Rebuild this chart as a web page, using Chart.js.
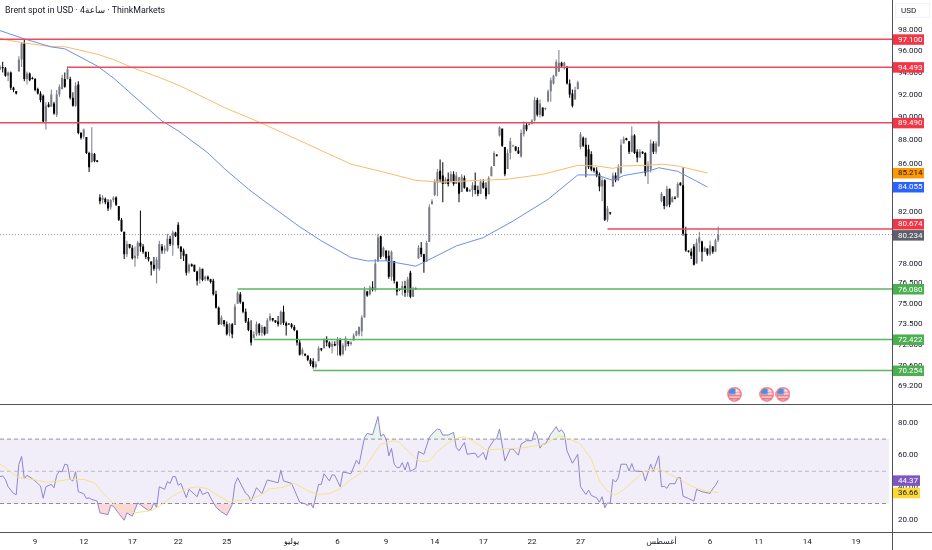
<!DOCTYPE html>
<html>
<head>
<meta charset="utf-8">
<script src="https://cdn.jsdelivr.net/npm/chart.js@4/dist/chart.umd.min.js"></script>
<style>
html, body { margin: 0; padding: 0; background: #fff; width: 932px; height: 550px; overflow: hidden; }
canvas { position: absolute; left: 0; }
#title { position: absolute; left: 5px; top: 5px; font: 8.8px Roboto, "DejaVu Sans", sans-serif; color: #131722; white-space: nowrap; z-index: 2; }
#wrap { position: relative; width: 932px; height: 550px; }
</style>
</head>
<body>
<div id="wrap">
<div id="title">Brent spot in USD · 4ساعة · ThinkMarkets</div>
<div style="position:absolute;left:0;top:0;width:932px;height:405px"><canvas id="price"></canvas></div>
<div style="position:absolute;left:0;top:405px;width:932px;height:145px"><canvas id="rsi"></canvas></div>
</div>
<script>
var highs = [
94.7,95,94.5,94.1,94.1,92.7,92.3,95.5,96.85,97.05,
94.1,94,93.6,93.5,92.6,92.3,92,91.3,91.3,92.45,
91.35,92.4,92.9,93.8,94,94.55,93.6,92.2,93.1,93.2,
88.7,89,88.25,87,89.1,86.9,86.3,83.45,83.4,83.2,
83.05,83.05,83.3,83.3,82.5,81.55,80.45,79.75,79.5,79.4,
79.3,79.75,82.15,79.5,78.9,78.9,78.15,78.5,78.5,79.75,
79.5,79.4,80.3,80.15,80.55,80.45,81.2,79.3,79.15,78.75,
78,78,77.9,77.45,77.75,77.6,77.1,77.1,76.85,76.85,
75.95,74.8,74.15,73.8,73.7,73.6,73.6,75,75.9,75.85,
75.15,74.65,73.95,73.8,73,73.7,73.6,73.45,73.35,73.95,
74.3,73.95,73.8,74.1,74.5,74.85,73.7,73.6,73.6,73.45,
73.05,72.45,71.85,71.45,71.3,71.1,71.1,70.9,71.95,71.8,
72.5,72.65,72.3,72.3,72.3,72.6,72.5,72.15,72.65,72.3,
72.3,72.85,73.05,73.35,74.15,76.25,75.95,76.35,76.65,78.35,
80.3,80.15,79.3,79,79,79,78.2,76.65,76.1,76.65,
76.7,77,77.45,76.25,76.2,79.4,79.65,78.75,79.75,82.65,
83.05,84.7,85.55,86.35,86.1,84.85,85.25,85.35,85.35,85.3,
84.85,85.1,85,84.05,83.9,84.45,85.25,84.15,84.7,84.7,
84.45,84.95,85.8,87.05,86.8,89.2,88.9,87.4,87.2,88.2,
87.6,87.45,87.4,88.9,89.6,89.5,89.5,89.8,91.8,91.7,
91.55,90.85,90.85,92.45,93.55,93.8,95.2,96.1,95,95,
94.55,93.35,92.45,92.7,93.25,88.7,88.3,88.2,87.6,87.05,
85.7,85.7,85.25,84.85,84.7,82.5,82,85.25,85.25,85.95,
88.05,88.3,88.2,87.9,89.2,88.5,87.2,87.2,87.05,86.95,
86.2,88.05,87.9,87.9,89.7,83.65,83.3,84.15,83.9,83.3,
83.3,84.45,84.45,85.7,80.85,79,79.15,79.5,79.9,80.45,
79.75,79.3,79.15,79.75,79.35,79.9,80.85];
var lows = [
94.2,94,93.6,93.2,92.4,92.2,92,94.1,94.5,93.2,
92.9,93.2,93.35,92.3,92,91.3,89.55,88.9,90.85,90.9,
90.2,90,91.8,92.45,92.6,93.35,91.55,90.9,90.9,88.5,
88.05,88.1,86.8,85.3,86.1,86.1,86.1,82.65,82.7,82.65,
82.1,82.2,82.8,82.5,81.3,80.45,78.35,78.5,79.15,78.3,
77.75,78.35,78.9,78.75,78.35,78.15,77.1,77.45,76.5,77.45,
78.75,78.75,78.9,79.35,78.6,80.05,79.15,78.35,78.2,77.1,
77.25,77.75,77.35,76.35,76.5,76.65,76.65,76.7,76.5,75.6,
74.65,73.45,73.45,73.35,72.7,72.65,72.5,73.45,75,75,
74.3,73.6,73,72,72.5,72.65,72.7,72.65,72.7,72.85,
73.7,73.7,73.6,73.35,73.45,73.45,72.7,73.45,73.2,73,
72,71.3,71.3,71.25,70.9,70.55,70.4,70.4,70.9,71.6,
71.8,71.95,71.8,71.45,71.95,71.3,71.25,71.3,71.65,71.95,
72,72.35,72.65,72.65,72.65,74,75.5,75.6,75.9,75.9,
78.15,78.35,78.5,78.2,76.85,76.7,76.5,75.6,75.95,75.6,
75.5,75.5,75.4,75.5,76.05,78.35,78.5,77.3,78.15,79.65,
82.65,83.3,83.3,84.45,82.8,84.3,84.1,84.45,84.15,84.3,
82.8,83.65,83.9,83.65,83.65,83.25,83.45,83.3,83.45,83.9,
83.05,83.45,84.95,85.8,86.6,88.3,87.4,84.95,85.55,86.35,
87.4,87.05,86.8,86.5,88.3,88.75,89.25,89.35,89.6,90.05,
89.95,90.05,90.6,91.3,91.35,92.9,93.6,94.05,94.45,94.25,
92.9,91.7,90.85,91.55,92.45,87.2,87.4,84.85,85.55,85.35,
85.25,84.85,83.7,82.9,81.3,81.25,81.8,84.05,84.45,84.55,
85.1,87.7,87.95,86.8,86.95,86.8,86.1,86.5,86.8,84.95,
84.3,85.25,86.8,86.8,87.4,82.8,82.25,82.4,82.4,82.8,
83.05,83.2,84.15,80.15,78.9,78.85,78.35,77.85,78,78.9,
78.15,78.9,78.6,78.6,78.75,78.9,79.65];
var opens = [
94.3,94.5,94.4,93.7,94,92.6,92.3,94.1,95.2,96.7,
93.4,93.9,93.5,93.4,92.5,92.1,91.9,89.6,91.1,90.9,
91.2,90.2,92,92.5,93.4,93.4,93.4,91.7,91,92.9,
88.6,88.3,88.25,86.9,86.1,86.8,86.25,83.2,83,83.1,
82.8,82.4,83,83.2,82.5,81.4,80.45,78.7,79.5,79.2,
78.4,78.6,79.6,79.3,78.9,78.5,78.15,77.9,77.6,77.6,
79.3,79,79,79.9,79.4,80.4,81,79.3,79,78.7,
77.4,77.95,77.9,77.4,76.8,77.6,76.8,77,76.8,76.7,
75.7,74.7,73.5,73.8,73.5,72.9,73.5,73.45,75,75.7,
75.1,74.4,73.7,73.1,72.5,72.8,73.5,72.9,73.3,72.85,
73.8,73.95,73.8,73.7,73.5,74.4,73.6,73.55,73.5,73.3,
73.05,72.2,71.4,71.4,71.3,71,70.9,70.5,70.9,71.8,
71.8,72.4,72.2,71.9,72.1,72,72.4,71.4,71.9,72.3,
72.1,72.35,72.7,72.8,73,74,75.9,75.7,76.2,76,
78.15,80.1,78.6,79,78.6,77,78.2,76.6,76.1,76,
76.3,75.8,77.3,75.5,76.15,78.4,79.2,78.7,78.15,79.65,
82.65,83.4,84.4,85.4,85,84.3,84.7,84.45,85.1,84.3,
84.4,83.65,84.8,84,83.7,83.8,84.2,83.8,83.5,84.4,
84,83.45,84.95,85.8,86.75,88.4,89,87.4,85.55,86.9,
87.5,87.45,87.1,86.6,88.5,89.3,89.3,89.4,89.7,91.5,
90.2,90.85,90.7,91.4,92.3,93,93.7,94.1,94.9,94.6,
94.55,93,92.1,91.55,92.5,87.4,88.2,87.6,87.2,86.8,
85.6,85.4,85.1,84.1,84.6,81.4,82,84.1,85,84.6,
85.2,87.7,88.15,87.9,87,88.4,87,86.5,87,86.9,
85.3,85.5,87.7,87,87.5,82.9,83.3,82.5,83.9,82.8,
83.2,83.2,84.4,84.2,80.3,79,78.9,79.3,78,79.6,
79.7,78.9,79.15,78.7,79.3,78.9,79.8];
var closes = [
94.5,94.4,93.7,94,92.6,92.4,92.1,95.2,96.7,93.4,
93.9,93.3,93.4,92.4,92.1,91.5,89.6,91,90.9,92,
90.3,92,92.7,93.5,92.7,94.3,91.7,91,92.8,88.6,
88.2,88.9,86.9,85.7,86.9,86.2,86.15,82.9,83.2,82.8,
82.3,83,83.2,82.6,81.4,80.5,78.7,79.5,79.2,78.4,
78.6,79.6,79.3,78.9,78.5,78.3,77.9,77.6,78.3,79.5,
79,79.15,79.9,79.5,80.4,80.1,79.4,78.9,78.6,77.3,
77.9,77.8,77.4,76.7,77.6,76.75,77,76.8,76.6,75.7,
74.7,73.5,74,73.5,72.8,73.5,72.8,74.8,75.8,75.1,
74.4,73.7,73.1,72.2,72.8,73.5,72.9,73.3,72.8,73.8,
74.1,73.8,73.65,73.5,74.4,73.6,73.4,73.5,73.3,73.1,
72.2,71.35,71.7,71.3,71,70.7,70.5,70.7,71.8,71.7,
72.4,72.2,71.9,72.1,72,72.45,71.35,72,72.5,72.1,
72.2,72.7,73,73.3,74,76,75.6,76.2,76,78,
80,78.5,79.2,78.4,77,78.9,76.7,75.9,76,76.3,
75.8,76.8,75.5,76.1,76.1,79.2,78.7,78.1,79.6,82.4,
82.9,84.5,85.3,84.7,84.3,84.7,84.3,85.1,84.3,85,
83.5,84.9,84,83.7,83.8,84.2,83.8,83.5,84.5,84,
83.3,84.8,85.7,86.9,86.65,89.1,87.5,85.1,86.9,87.9,
87.55,87.1,86.85,88.6,89.3,88.9,89.4,89.7,91.5,90.2,
91.2,90.1,90.8,92.3,93.3,93.7,95,94.9,94.6,94.9,
93,92,91,92.4,93.1,88.5,87.5,86.6,85.7,85.5,
85.4,85,84.1,84.6,81.4,82.3,81.9,85,84.6,85.7,
87.6,88.1,88,87,88.4,86.9,86.5,87,86.85,85.2,
85.9,87.7,87,87.7,89.6,83.5,82.5,83.9,82.6,83.2,
83.1,84.3,84.2,80.3,79,78.9,78.6,77.9,79.6,80,
78.9,79.2,78.7,79.4,78.9,79.8,80.234];

var blueBars = [0,9,19,24,36,42,60,66,77,83,92,97,111,119,130,136,143,154,158,169,179,190,203,214,221,227,231,240,244,251,262];
var blueValues = [97.93,97.14,96.38,96.2,94.6,93.5,89.65,88.8,86.9,85.6,83.88,83.05,80.85,79.75,78.45,78.2,78.2,77.8,78.2,79.35,80,81.3,83.05,85.05,85.05,84.6,85,85.35,85.65,85.35,84.055];
var orangeBars = [0,9,19,24,36,42,49,59,67,83,96,111,130,141,154,163,173,188,201,214,221,227,231,240,245,251,262];
var orangeValues = [97.15,96.75,96.4,96.4,95.7,95.2,94.45,93.55,92.75,90.85,89.55,87.95,85.95,85.35,84.6,84.45,84.55,84.7,85.1,85.85,85.8,85.6,85.8,85.85,85.95,85.8,85.214];

var levelValues = [97.1,94.493,89.49,80.674,76.08,72.422,70.254];
var levelStarts = [0,25,0,225,88,94,116];
var lastPrice = 80.234;
var flagBars = [272,284,290];
var flagValue = 68.65;

var priceTicks = [98,96,94,92,90,88,86,84,82,80,78,76.5,75,73.5,72,70.6,69.2];

var rsiBars = [0,1,2,3,5,6,7,8,9,10,12,14,15,16,17,19,20,21,22,23,24,25,26,27,28,29,31,32,33,34,36,37,40,41,42,44,46,47,49,51,55,56,57,58,59,61,62,63,64,65,66,67,69,70,73,74,75,77,78,80,82,84,86,87,88,91,92,93,95,97,99,103,104,105,108,111,113,114,115,116,118,119,120,122,123,124,126,127,130,132,133,135,136,138,140,141,142,143,144,145,146,147,148,149,150,151,152,154,155,157,159,160,162,163,164,166,168,169,170,172,173,176,177,179,180,181,183,184,185,187,189,190,192,193,195,197,198,199,200,201,202,204,206,207,208,209,210,212,214,215,217,218,219,221,222,223,224,225,226,227,228,229,230,232,233,234,235,238,239,241,242,244,245,246,247,248,250,251,252,253,255,257,258,260,263,264,265,266];
var rsiValues = [46.7,47.1,45,40.4,36.3,35.4,54.4,59.2,45.4,47.5,45.4,42.5,40.8,33.3,40.4,41.9,39.8,47.5,50.2,49.6,54.4,54,45,44,49.8,37.3,36.1,33.1,33.5,32.5,31.5,24.2,23.1,28.8,28.3,23.8,19.6,24.2,22.1,30.4,25.6,26.3,30.4,27.3,40.4,38.8,43.6,42.5,46.7,46.7,41.3,42.5,33.6,38.8,34.2,39.2,35.6,37.1,33.6,27.7,24.8,22.7,29.4,41.9,46,36.3,35,31.5,39.8,36.1,44.6,42.9,50.6,44,42.5,30.8,29.8,28.8,30,27.3,41.9,41.9,48.5,44,47.9,47.5,40.4,49.6,48.5,56.9,54.4,71,73.5,72.7,84,71.7,73.1,70,59.6,64.2,54.4,52.3,52.3,55.4,50.8,55.8,50,51.9,62.3,60.6,71,73.1,76.3,75.8,72.5,72.5,74.2,64.8,62.7,67.9,60.6,61.3,58.5,61.7,57.1,64.4,69.6,70.4,76.3,56.5,63.8,63.8,60,66.9,69,69,74.8,72.1,64.4,66.9,66.9,73.1,77.7,74.6,75.8,73.5,62.7,55,60.6,40.4,35.6,38.3,35,33.5,30.8,34.2,27.3,30.4,30,45,43.3,46,54.4,54.4,50.2,54.8,50.2,49.8,44,54.4,50.2,59.6,40.4,40.8,39.4,42.3,42.3,46,46,34.6,33.1,31.5,38.8,37.3,36.3,39.2,41.3,44.37];
var smaBars = [0,2,5,7,12,17,22,26,31,35,38,42,46,50,56,59,64,69,73,77,81,85,89,93,98,100,104,109,115,118,122,126,130,134,138,141,146,148,151,154,156,159,163,168,172,175,180,185,193,198,202,207,211,215,219,222,225,228,231,236,239,244,248,252,256,260,266];
var smaValues = [54.4,52.3,48.1,46,45,43.3,44,45,45,42.9,36.7,30,26.7,24.2,25.6,28.3,34.6,39.2,40.4,39.2,34.6,30.8,32.1,32.5,36.7,39.2,39.8,42.5,37.1,35.6,36.1,39.2,45,49.2,59.6,66.9,69,67.9,62.7,57.9,56,56.5,63.8,70,71.5,69,63.3,63.8,64.4,65.8,66.9,72.1,70,66.9,57.5,44,37.7,35.2,38.8,46,50.2,51.7,48.1,45,40.8,38.3,36.66];
var rsiLevels = [70,50,30];
var rsiTicks = [80,60,40,20];

var timeBars = [13,31,49,66,84,108,125,143,161,179,197,215,245,263,281,299,317];
var timeLabels = ["9","12","17","22","25","يوليو","6","9","14","17","22","27","أغسطس","6","11","14","19"];

var LAST_X = 330.56;
var FONT = 'Roboto, "DejaVu Sans", sans-serif';
var TEXT = "#131722";
var FRAME = "#50535e";
var RED = "#f23645";
var GREEN = "#4caf50";

function pairs(xs, ys) {
    return xs.map(function(x, i) { return { x: x, y: ys[i] }; });
}

function flagIcon() {
    var size = 15, c = document.createElement("canvas");
    c.width = size; c.height = size;
    var g = c.getContext("2d");
    g.beginPath(); g.arc(7.5, 7.5, 6.6, 0, Math.PI * 2);
    g.fillStyle = "#fde3e6"; g.fill();
    g.save(); g.clip();
    g.fillStyle = "#f0717c";
    g.fillRect(0, 8, size, 1.6);
    g.fillRect(0, 11, size, 1.6);
    g.fillStyle = "#f7a3aa";
    g.fillRect(7, 5, size, 1.4);
    g.fillStyle = "#4a90e2";
    g.fillRect(2, 2, 6.5, 5.5);
    g.restore();
    g.beginPath(); g.arc(7.5, 7.5, 6.6, 0, Math.PI * 2);
    g.strokeStyle = "#ef6a76"; g.lineWidth = 1.3; g.stroke();
    return c;
}

function box(ctx, y, w, bg, fg, txt) {
    ctx.fillStyle = bg;
    ctx.fillRect(893, y - 5, w, 10.5);
    ctx.fillStyle = fg;
    ctx.font = "8px " + FONT;
    ctx.textAlign = "left";
    ctx.textBaseline = "middle";
    ctx.fillText(txt, 898, y + 0.5);
}

function noPadding(scale) {
    scale.width = 39.5;
    scale.paddingTop = 0;
    scale.paddingBottom = 0;
}

var priceLabels = {
    id: "priceLabels",
    afterDraw: function(chart) {
        var ctx = chart.ctx, y = chart.scales.y;
        ctx.save();
        ctx.strokeStyle = FRAME;
        ctx.lineWidth = 1;
        ctx.beginPath();
        ctx.moveTo(892.5, 0); ctx.lineTo(892.5, 405);
        ctx.moveTo(0, 404.5); ctx.lineTo(932, 404.5);
        ctx.stroke();
        ctx.strokeStyle = "#f0f3fa";
        ctx.strokeRect(895.5, 3.5, 34, 14);
        ctx.fillStyle = TEXT;
        ctx.font = "8px " + FONT;
        ctx.textAlign = "left";
        ctx.textBaseline = "middle";
        ctx.fillText("USD", 901, 11);
        for (var i = 0; i < levelValues.length; i++) {
            var v = levelValues[i];
            box(ctx, y.getPixelForValue(v) - (v === 80.674 ? 5 : 0), 31, v > 80 ? RED : GREEN, "#fff", v.toFixed(3));
        }
        box(ctx, y.getPixelForValue(orangeValues[orangeValues.length - 1]), 31, "#ff9800", TEXT, orangeValues[orangeValues.length - 1].toFixed(3));
        box(ctx, y.getPixelForValue(blueValues[blueValues.length - 1]), 31, "#2962ff", "#fff", blueValues[blueValues.length - 1].toFixed(3));
        box(ctx, y.getPixelForValue(lastPrice) + 0.5, 31, "#5d606b", "#fff", lastPrice.toFixed(3));
        ctx.restore();
    }
};

var rsiLabels = {
    id: "rsiLabels",
    afterDraw: function(chart) {
        var ctx = chart.ctx, y = chart.scales.y;
        ctx.save();
        ctx.strokeStyle = FRAME;
        ctx.lineWidth = 1;
        ctx.beginPath();
        ctx.moveTo(892.5, 0); ctx.lineTo(892.5, 145);
        ctx.moveTo(0, 127.5); ctx.lineTo(932, 127.5);
        ctx.stroke();
        box(ctx, y.getPixelForValue(rsiValues[rsiValues.length - 1]), 27, "#7e57c2", "#fff", rsiValues[rsiValues.length - 1].toFixed(2));
        box(ctx, y.getPixelForValue(smaValues[smaValues.length - 1]), 27, "#fdd835", TEXT, smaValues[smaValues.length - 1].toFixed(2));
        ctx.restore();
    }
};

var candleWicks = [], candleBodies = [], candleColors = [];
highs.forEach(function(h, i) {
    candleWicks.push({ x: i, y: [lows[i], h] });
    candleBodies.push({ x: i, y: [opens[i], closes[i]] });
    candleColors.push(closes[i] >= opens[i] ? "#787b86" : "#000000");
});

var priceSets = [
    { type: "bar", data: candleWicks, barThickness: 1, inflateAmount: 0, backgroundColor: candleColors, order: 5 },
    { type: "bar", data: candleBodies, barThickness: 2, inflateAmount: 0, backgroundColor: candleColors, order: 4 },
    { type: "line", data: pairs(blueBars, blueValues), borderColor: "#6f8fe6", borderWidth: 1, pointRadius: 0, order: 3 },
    { type: "line", data: pairs(orangeBars, orangeValues), borderColor: "#f7bc6c", borderWidth: 1, pointRadius: 0, order: 3 },
    { type: "line", data: [{ x: 0, y: lastPrice }, { x: LAST_X, y: lastPrice }], borderColor: "#9598a1", borderWidth: 1, borderDash: [1, 2], pointRadius: 0, order: 6 },
    { type: "line", data: flagBars.map(function(b) { return { x: b, y: flagValue }; }), showLine: false, pointStyle: flagIcon(), pointRadius: 7, order: 1 }
];
levelValues.forEach(function(v, i) {
    priceSets.push({
        type: "line",
        data: [{ x: levelStarts[i], y: v }, { x: LAST_X, y: v }],
        borderColor: v > 80 ? "#ea4a5c" : "#5cb562",
        borderWidth: 1.5,
        pointRadius: 0,
        order: 2
    });
});

new Chart(document.getElementById("price"), {
    type: "bar",
    data: { datasets: priceSets },
    options: {
        responsive: true,
        maintainAspectRatio: false,
        animation: false,
        layout: { padding: 0, autoPadding: false },
        plugins: { legend: { display: false }, tooltip: { enabled: false } },
        datasets: { bar: { grouped: false } },
        scales: {
            x: { type: "linear", min: 0, max: LAST_X, offset: false, display: false, grid: { display: false } },
            y: {
                type: "logarithmic",
                position: "right",
                bounds: "data",
                min: 67.93,
                max: 100.9,
                grid: { display: false, drawTicks: false },
                border: { display: false },
                afterBuildTicks: function(scale) {
                    scale.ticks = priceTicks.map(function(v) { return { value: v }; });
                },
                afterFit: noPadding,
                ticks: {
                    autoSkip: false,
                    crossAlign: "near",
                    padding: 5.5,
                    color: TEXT,
                    font: { family: FONT, size: 8 },
                    callback: function(v) { return Number(v).toFixed(3); }
                }
            }
        }
    },
    plugins: [priceLabels]
});

var rsiSets = [
    { data: pairs(rsiBars, rsiValues), borderColor: "#8f85cf", borderWidth: 1, pointRadius: 0, order: 2,
      fill: { target: { value: 30 }, above: "rgba(0,0,0,0)", below: "rgba(242,54,69,0.2)" } },
    { data: pairs(rsiBars, rsiValues), borderWidth: 0, pointRadius: 0, order: 3,
      fill: { target: { value: 70 }, above: "rgba(76,175,80,0.12)", below: "rgba(0,0,0,0)" } },
    { data: pairs(smaBars, smaValues), borderColor: "#f4e38a", borderWidth: 1, pointRadius: 0, order: 1 }
];
rsiLevels.forEach(function(v) {
    rsiSets.push({
        data: [{ x: 0, y: v }, { x: 329.3, y: v }],
        borderColor: v === 50 ? "rgba(120,123,134,0.45)" : "rgba(120,123,134,0.8)",
        borderWidth: 1,
        borderDash: [4, 3],
        pointRadius: 0,
        order: 4,
        fill: v === 70 ? { target: { value: 30 }, above: "rgba(126,87,194,0.1)" } : false
    });
});

new Chart(document.getElementById("rsi"), {
    type: "line",
    data: { datasets: rsiSets },
    options: {
        responsive: true,
        maintainAspectRatio: false,
        animation: false,
        layout: { padding: 0, autoPadding: false },
        plugins: { legend: { display: false }, tooltip: { enabled: false } },
        scales: {
            x: {
                type: "linear",
                min: 0,
                max: LAST_X,
                grid: { display: false, drawTicks: false },
                border: { display: false },
                afterBuildTicks: function(scale) {
                    scale.ticks = timeBars.map(function(v) { return { value: v }; });
                },
                afterFit: function(scale) { scale.height = 18; },
                ticks: {
                    autoSkip: false,
                    maxRotation: 0,
                    padding: 5,
                    color: TEXT,
                    font: { family: FONT, size: 8 },
                    callback: function(v) { return timeLabels[timeBars.indexOf(v)]; }
                }
            },
            y: {
                type: "linear",
                position: "right",
                min: 12.3,
                max: 91.18,
                grid: { display: false, drawTicks: false },
                border: { display: false },
                afterBuildTicks: function(scale) {
                    scale.ticks = rsiTicks.map(function(v) { return { value: v }; });
                },
                afterFit: noPadding,
                ticks: {
                    autoSkip: false,
                    crossAlign: "near",
                    padding: 5.5,
                    color: TEXT,
                    font: { family: FONT, size: 8 },
                    callback: function(v) { return Number(v).toFixed(2); }
                }
            }
        }
    },
    plugins: [rsiLabels]
});
</script>
</body>
</html>
